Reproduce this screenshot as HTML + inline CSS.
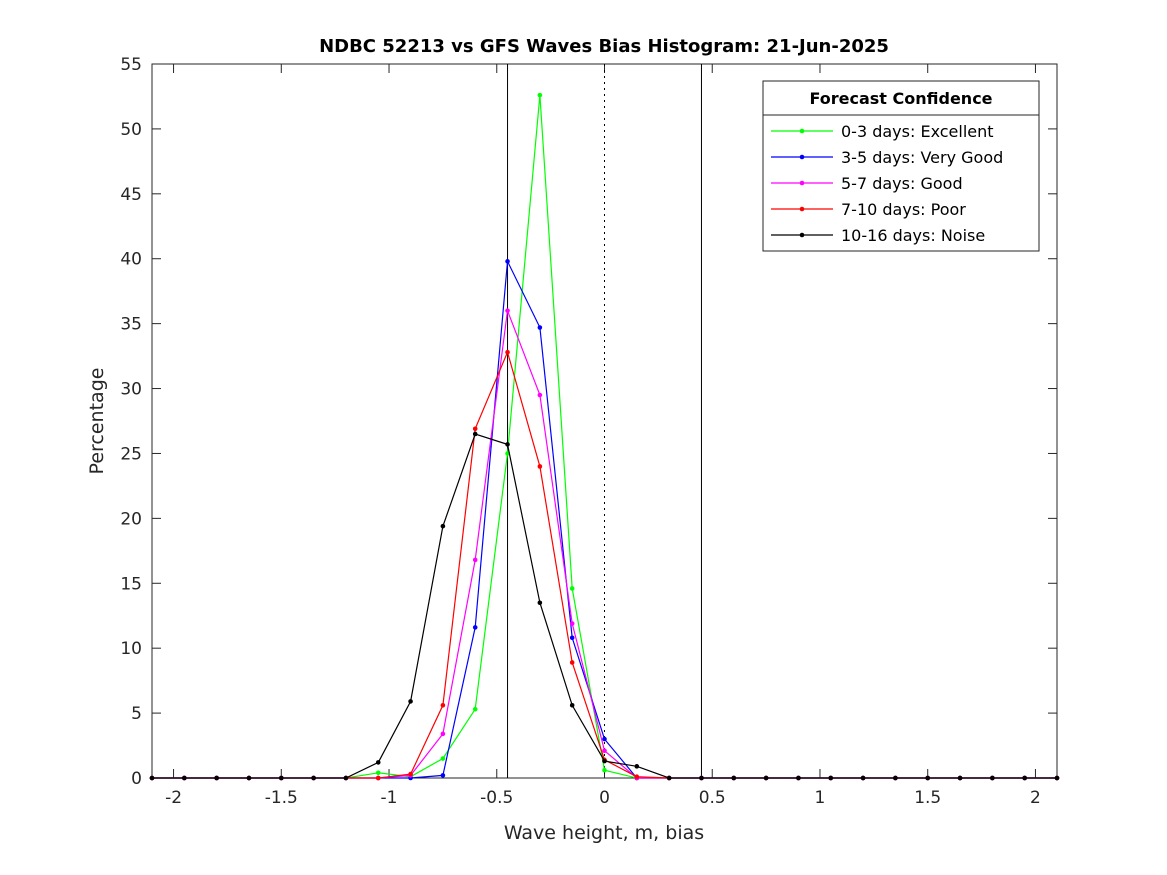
<!DOCTYPE html>
<html><head><meta charset="utf-8"><style>
body{margin:0;background:#fff;}
svg{display:block;font-family:"DejaVu Sans","Liberation Sans",sans-serif;}
</style></head><body>
<svg id="chart" width="1167" height="875" viewBox="0 0 1167 875" xmlns="http://www.w3.org/2000/svg">
<rect width="1167" height="875" fill="#fff"/>
<text x="604" y="52" text-anchor="middle" font-size="18" font-weight="bold" fill="#000">NDBC 52213 vs GFS Waves Bias Histogram: 21-Jun-2025</text>
<text x="604" y="839" text-anchor="middle" font-size="19" fill="#262626">Wave height, m, bias</text>
<text transform="translate(103,421) rotate(-90)" text-anchor="middle" font-size="19" fill="#262626">Percentage</text>
<g id="plot"></g>
</svg>
<script>
const xValues=[-2.1,-1.95,-1.8,-1.65,-1.5,-1.35,-1.2,-1.05,-0.9,-0.75,-0.6,-0.45,-0.3,-0.15,0,0.15,0.3,0.45,0.6,0.75,0.9,1.05,1.2,1.35,1.5,1.65,1.8,1.95,2.1];
const green  =[0,0,0,0,0,0,0,0.4,0.1,1.5,5.3,25,52.6,14.6,0.6,0,0,0,0,0,0,0,0,0,0,0,0,0,0];
const blue   =[0,0,0,0,0,0,0,0,0,0.2,11.6,39.8,34.7,10.8,3.0,0,0,0,0,0,0,0,0,0,0,0,0,0,0];
const magenta=[0,0,0,0,0,0,0,0,0.2,3.4,16.8,36,29.5,11.9,2.1,0,0,0,0,0,0,0,0,0,0,0,0,0,0];
const red    =[0,0,0,0,0,0,0,0,0.3,5.6,26.9,32.8,24,8.9,1.4,0.1,0,0,0,0,0,0,0,0,0,0,0,0,0];
const black  =[0,0,0,0,0,0,0,1.2,5.9,19.4,26.5,25.7,13.5,5.6,1.3,0.9,0,0,0,0,0,0,0,0,0,0,0,0,0];
const seriesNames=["0-3 days: Excellent","3-5 days: Very Good","5-7 days: Good","7-10 days: Poor","10-16 days: Noise"];
const xTicks=[-2,-1.5,-1,-0.5,0,0.5,1,1.5,2];
const xTickLabels=["-2","-1.5","-1","-0.5","0","0.5","1","1.5","2"];
const yTicks=[0,5,10,15,20,25,30,35,40,45,50,55];
const refLines=[-0.45,0.45];

const L=152,R=1057,T=64,B=778,xmin=-2.1,xmax=2.1,ymin=0,ymax=55;
const X=v=>L+(v-xmin)/(xmax-xmin)*(R-L);
const Y=v=>B-(v-ymin)/(ymax-ymin)*(B-T);
const NS="http://www.w3.org/2000/svg";
const g=document.getElementById('plot');
function mk(tag,attrs,parent){const e=document.createElementNS(NS,tag);for(const k in attrs)e.setAttribute(k,attrs[k]);(parent||g).appendChild(e);return e;}

let box=mk('rect',{x:L,y:T,width:R-L,height:B-T,fill:'none',stroke:'#262626','stroke-width':1});


xTicks.forEach((t,i)=>{
  const x=X(t);
  let l=mk('line',{x1:x,x2:x,y1:B,y2:B-9,stroke:'#262626'});
  
  
  mk('line',{x1:x,x2:x,y1:T,y2:T+9,stroke:'#262626'});
  let tx=mk('text',{x:x,y:B+25,'text-anchor':'middle','font-size':17,fill:'#262626'});
  
  
  tx.textContent=xTickLabels[i];
});
yTicks.forEach(t=>{
  const y=Y(t);
  let l=mk('line',{x1:L,x2:L+9,y1:y,y2:y,stroke:'#262626'});
  
  
  mk('line',{x1:R,x2:R-9,y1:y,y2:y,stroke:'#262626'});
  let tx=mk('text',{x:L-10,y:y+6,'text-anchor':'end','font-size':17,fill:'#262626'});
  
  
  tx.textContent=String(t);
});
refLines.forEach(v=>{
  let l=mk('line',{x1:X(v),x2:X(v),y1:T,y2:B,stroke:'#000','stroke-width':1});
  
  
});
let zl=mk('line',{x1:X(0),x2:X(0),y1:T,y2:B,stroke:'#000','stroke-width':1,'stroke-dasharray':'2,4'});



const colors=['#00ff00','#0000ff','#ff00ff','#ff0000','#000000'];
const allSeries=[green,blue,magenta,red,black];
allSeries.forEach((s,si)=>{
  const sg=mk('g',{});
  
  
  const pts=s.map((v,i)=>X(xValues[i]).toFixed(1)+','+Y(v).toFixed(1)).join(' ');
  let pl=mk('polyline',{points:pts,fill:'none',stroke:colors[si],'stroke-width':1.2},sg);
  
  
  s.forEach((v,i)=>{
    let c=mk('circle',{cx:X(xValues[i]),cy:Y(v),r:2.3,fill:colors[si]},sg);
    
    
  });
});
const lg=mk('g',{});


mk('rect',{x:763,y:81,width:276,height:170,fill:'#fff',stroke:'#262626'},lg);
mk('line',{x1:763,x2:1039,y1:115,y2:115,stroke:'#262626'},lg);
let lt=mk('text',{x:901,y:104,'text-anchor':'middle','font-size':16,'font-weight':'bold',fill:'#000'},lg);


lt.textContent='Forecast Confidence';
seriesNames.forEach((n,i)=>{
  const y=131+i*26;
  const eg=mk('g',{},lg);
  
  
  mk('line',{x1:771,x2:833,y1:y,y2:y,stroke:colors[i],'stroke-width':1.2},eg);
  mk('circle',{cx:802,cy:y,r:2.3,fill:colors[i]},eg);
  const t=mk('text',{x:841,y:y+6,'font-size':16,fill:'#000'},eg);
  t.textContent=n;
});
</script>
</body></html>
